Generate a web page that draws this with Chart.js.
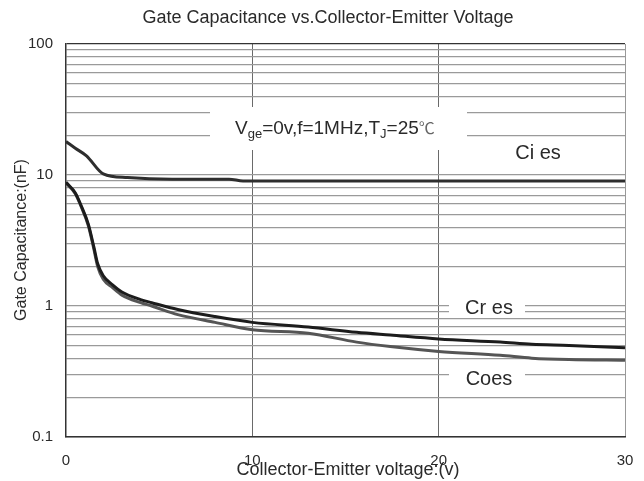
<!DOCTYPE html>
<html>
<head>
<meta charset="utf-8">
<script src="https://cdn.jsdelivr.net/npm/chart.js@4"></script>
<style>
  html, body { margin: 0; padding: 0; background: #fff; }
  #wrap { width: 644px; height: 481px; }
</style>
</head>
<body>
<div id="wrap"><canvas id="myChart" width="644" height="481"></canvas></div>
<script>
// values
const ciesVolts = [0, 0.5, 1.1, 2, 3.3, 5.7, 8.75, 9.5, 15, 20, 25, 30];
const ciesValues = [18, 16, 14, 10.2, 9.55, 9.3, 9.3, 9.0, 9.0, 9.0, 9.0, 9.0];

const volts = [0, 0.5, 0.8, 1.2, 1.5, 1.7, 2, 2.5, 3, 4, 4.6, 6, 8, 10, 13, 15.6, 17.4, 20, 23.3, 25, 27, 30];
const cresValues = [8.8, 7.3, 5.9, 4.2, 2.8, 2.1, 1.7, 1.45, 1.28, 1.12, 1.06, 0.94, 0.83, 0.75, 0.69, 0.63, 0.60, 0.56, 0.53, 0.51, 0.50, 0.48];
const coesValues = [8.7, 7.2, 5.8, 4.1, 2.7, 2.0, 1.6, 1.38, 1.21, 1.06, 1.0, 0.86, 0.75, 0.66, 0.62, 0.53, 0.49, 0.45, 0.42, 0.40, 0.39, 0.385];

const yTicks = [0.1, 0.2, 0.3, 0.4, 0.5, 0.6, 0.7, 0.8, 0.9,
                1, 2, 3, 4, 5, 6, 7, 8, 9,
                10, 20, 30, 40, 50, 60, 70, 80, 90, 100];
const yLabels = { 0.1: '0.1', 1: '1', 10: '10', 100: '100' };
const xTicks = [0, 10, 20, 30];

const FONT = '"Liberation Sans", Arial, sans-serif';

function pts(xs, ys) {
  return xs.map((x, i) => ({ x: x, y: ys[i] }));
}

// white boxes and text drawn over the grid
const notes = {
  id: 'notes',
  beforeDatasetsDraw(chart) {
    const c = chart.ctx;
    c.save();
    c.fillStyle = '#fff';
    c.fillRect(210, 107, 257, 43);
    c.fillRect(497, 137, 80, 33);
    c.fillRect(449, 296, 76, 22);
    c.fillRect(449, 366, 76, 24);

    c.fillStyle = '#2a2a2a';
    c.textBaseline = 'alphabetic';
    c.textAlign = 'left';
    // V_ge=0v,f=1MHz,T_J=25℃
    let x = 235;
    const base = 134;
    c.font = '19px ' + FONT;
    c.fillText('V', x, base); x += c.measureText('V').width;
    c.font = '13px ' + FONT;
    c.fillText('ge', x, base + 4); x += c.measureText('ge').width;
    c.font = '19px ' + FONT;
    c.fillText('=0v,f=1MHz,T', x, base); x += c.measureText('=0v,f=1MHz,T').width;
    c.font = '13px ' + FONT;
    c.fillText('J', x, base + 4); x += c.measureText('J').width;
    c.font = '19px ' + FONT;
    c.fillText('=25', x, base); x += c.measureText('=25').width;
    c.fillStyle = '#666';
    c.font = '16px "Noto Sans CJK SC", ' + FONT;
    c.fillText('℃', x, base);

    c.fillStyle = '#2a2a2a';
    c.textAlign = 'center';
    c.textBaseline = 'middle';
    c.font = '20px ' + FONT;
    c.fillText('Ci es', 538, 153);
    c.fillText('Cr es', 489, 308);
    c.fillText('Coes', 489, 379);
    c.restore();
  },
  afterDraw(chart) {
    const c = chart.ctx;
    c.save();
    c.fillStyle = '#2a2a2a';
    c.textAlign = 'center';
    c.textBaseline = 'middle';
    c.font = '18px ' + FONT;
    c.fillText('Gate Capacitance vs.Collector-Emitter Voltage', 328, 18);
    c.fillText('Collector-Emitter voltage:(v)', 348, 470);
    c.translate(22, 240);
    c.rotate(-Math.PI / 2);
    c.font = '16px ' + FONT;
    c.fillText('Gate Capacitance:(nF)', 0, 0);
    c.restore();
  }
};

const ctx = document.getElementById('myChart').getContext('2d');
const myChart = new Chart(ctx, {
  type: 'line',
  data: {
    datasets: [
      { label: 'Cies', data: pts(ciesVolts, ciesValues), borderColor: '#2e2e2e', borderWidth: 3, cubicInterpolationMode: 'monotone' },
      { label: 'Cres', data: pts(volts, cresValues), borderColor: '#1c1c1c', borderWidth: 3, cubicInterpolationMode: 'monotone' },
      { label: 'Coes', data: pts(volts, coesValues), borderColor: '#555555', borderWidth: 3, cubicInterpolationMode: 'monotone' }
    ]
  },
  options: {
    responsive: false,
    animation: false,
    events: [],
    elements: { point: { radius: 0 } },
    layout: { padding: { top: 44, right: 19, left: 0, bottom: 0 } },
    plugins: { legend: { display: false }, title: { display: false }, tooltip: { enabled: false } },
    scales: {
      x: {
        type: 'linear',
        min: 0, max: 30,
        afterBuildTicks: s => { s.ticks = xTicks.map(v => ({ value: v })); },
        afterFit: s => { s.height = 44; s.paddingLeft = 0; s.paddingRight = 0; },
        border: { display: true, color: '#333', width: 1.5 },
        grid: {
          drawTicks: false,
          color: c => (c.tick && (c.tick.value === 10 || c.tick.value === 20)) ? '#6a6a6a' : (c.tick && c.tick.value === 30 ? '#999' : 'rgba(0,0,0,0)'),
          lineWidth: 1
        },
        ticks: { padding: 15, color: '#2a2a2a', font: { family: FONT, size: 15 }, maxRotation: 0, autoSkip: false }
      },
      y: {
        type: 'logarithmic',
        min: 0.1, max: 100,
        afterBuildTicks: s => { s.ticks = yTicks.map(v => ({ value: v })); },
        afterFit: s => { s.width = 66; s.paddingTop = 0; s.paddingBottom = 0; },
        border: { display: true, color: '#333', width: 1.5 },
        grid: {
          drawTicks: false,
          color: c => (c.tick && c.tick.value === 100) ? '#333' : '#9a9a9a',
          lineWidth: 1.2
        },
        ticks: {
          padding: 13,
          color: '#2a2a2a',
          font: { family: FONT, size: 15 },
          autoSkip: false,
          callback: v => yLabels[v] || ''
        }
      }
    }
  },
  plugins: [notes]
});
</script>
</body>
</html>
